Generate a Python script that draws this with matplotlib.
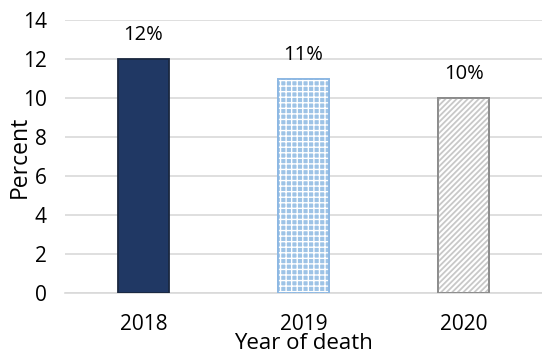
import matplotlib
matplotlib.use("Agg")
import matplotlib.pyplot as plt
import numpy as np

years = ["2018", "2019", "2020"]
percent = [12, 11, 10]
labels = ["12%", "11%", "10%"]

plt.rcParams['font.family'] = ['Open Sans', 'DejaVu Sans']

fig = plt.figure(figsize=(5.42, 3.58), dpi=100)
ax = fig.add_axes([65 / 542, 1 - 293 / 358, 477 / 542, 273 / 358])

x = np.arange(len(years))
faces = ["#203864", "#9dc3e6", "white"]
edges = ["#1a2840", "#8db8e3", "#8c8c8c"]
hatches = [None, "+++", "//////"]
hatch_colors = [None, "white", "#c8c8c8"]
hatch_widths = [1.0, 1.0, 1.3]

for i, (xi, v) in enumerate(zip(x, percent)):
    ax.bar(xi, v, width=0.32, facecolor=faces[i], edgecolor=edges[i],
           linewidth=1.3, zorder=3)
    if hatches[i]:
        # separate patch so the hatch colour can differ from the outline
        with plt.rc_context({"hatch.linewidth": hatch_widths[i]}):
            ax.bar(xi, v, width=0.32, facecolor="none",
                   edgecolor=hatch_colors[i], hatch=hatches[i],
                   linewidth=0, zorder=3.5)
        ax.bar(xi, v, width=0.32, facecolor="none", edgecolor=edges[i],
               linewidth=1.3, zorder=4)
    ax.annotate(labels[i], (xi, v), xytext=(0, 10), textcoords="offset points",
                ha="center", va="bottom", fontsize=14.5)

ax.set_xlim(-0.49, 2.49)
ax.set_ylim(0, 14)
ax.set_yticks(range(0, 15, 2))
ax.set_xticks(x)
ax.set_xticklabels(years)
ax.yaxis.grid(True, color="#d9d9d9", linewidth=1.2, zorder=0)
ax.set_axisbelow(True)
for s in ["top", "right", "left"]:
    ax.spines[s].set_visible(False)
ax.spines["bottom"].set_color("#d9d9d9")
ax.spines["bottom"].set_linewidth(1.2)
ax.tick_params(axis="both", length=0, labelsize=15)
ax.tick_params(axis="y", pad=13)
ax.tick_params(axis="x", pad=15)
ax.set_ylabel("Percent", fontsize=16.5, labelpad=-6)
ax.set_xlabel("Year of death", fontsize=16, labelpad=-1)

fig.savefig("out.png", dpi=100)
